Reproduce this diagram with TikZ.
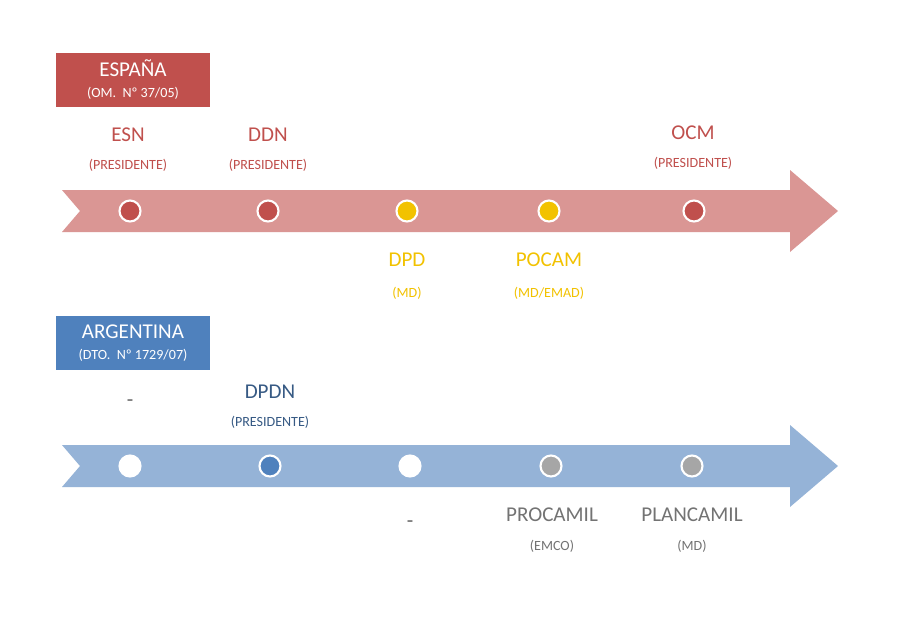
\documentclass[tikz,border=0pt]{standalone}
\usepackage{fontspec}
\setmainfont{Carlito}
\usetikzlibrary{positioning}
\definecolor{esred}{HTML}{C0504D}
\definecolor{espink}{HTML}{DA9694}
\definecolor{esyel}{HTML}{F2C200}
\definecolor{arblue}{HTML}{4F81BD}
\definecolor{arlight}{HTML}{95B3D7}
\definecolor{argrey}{HTML}{A6A6A6}
\tikzstyle{country}=[rectangle, draw=white, thick, minimum width=3.1cm, minimum height=1.1cm, align=center, text=white, font=\large, inner sep=1pt]
\tikzstyle{dot}=[circle, draw=white, line width=1.2pt, minimum size=0.42cm, inner sep=0pt]
\tikzstyle{lbl}=[font=\large, align=center]
\tikzstyle{sub}=[font=\footnotesize, align=center]
\begin{document}
\begin{tikzpicture}[x=0.02cm,y=-0.02cm]
        \useasboundingbox (0,0) rectangle (900,620);
        \fill[white] (0,0) rectangle (900,620);

        % Timeline arrows
        \fill[espink] (62,190) -- (790,190) -- (790,170) -- (838,211) -- (790,252) -- (790,232) -- (62,232) -- (80,211) -- cycle;
        \fill[arlight] (62,445) -- (790,445) -- (790,425) -- (838,466) -- (790,507) -- (790,487) -- (62,487) -- (80,466) -- cycle;

        % Espana
        \node (espana) [country, fill=esred] at (133,80) {ESPAÑA\\[-2pt] {\footnotesize (OM.\ \ Nº 37/05)}};
        \node (esn) [dot, fill=esred] at (130,211) {};
        \node (ddn) [dot, fill=esred] at (268,211) {};
        \node (dpd) [dot, fill=esyel] at (407,211) {};
        \node (pocam) [dot, fill=esyel] at (549,211) {};
        \node (ocm) [dot, fill=esred] at (694,211) {};

        \node [lbl, text=esred] at (128,135) {ESN};
        \node [sub, text=esred] at (128,165) {(PRESIDENTE)};
        \node [lbl, text=esred] at (268,135) {DDN};
        \node [sub, text=esred] at (268,165) {(PRESIDENTE)};
        \node [lbl, text=esred] at (693,133) {OCM};
        \node [sub, text=esred] at (693,163) {(PRESIDENTE)};
        \node [lbl, text=esyel] at (407,260) {DPD};
        \node [sub, text=esyel] at (407,293) {(MD)};
        \node [lbl, text=esyel] at (549,260) {POCAM};
        \node [sub, text=esyel] at (549,293) {(MD/EMAD)};

        % Argentina
        \node (argentina) [country, fill=arblue] at (133,343) {ARGENTINA\\[-2pt] {\footnotesize (DTO.\ \ Nº 1729/07)}};
        \node (a1) [dot, fill=white] at (130,466) {};
        \node (dpdn) [dot, fill=arblue] at (270,466) {};
        \node (a3) [dot, fill=white] at (410,466) {};
        \node (procamil) [dot, fill=argrey] at (551,466) {};
        \node (plancamil) [dot, fill=argrey] at (692,466) {};

        \node [lbl, text=black!60] at (130,403) {-};
        \node [lbl, text=arblue!70!black] at (270,392) {DPDN};
        \node [sub, text=arblue!70!black] at (270,422) {(PRESIDENTE)};
        \node [lbl, text=black!60] at (410,524) {-};
        \node [lbl, text=black!55] at (552,515) {PROCAMIL};
        \node [sub, text=black!55] at (552,546) {(EMCO)};
        \node [lbl, text=black!55] at (692,515) {PLANCAMIL};
        \node [sub, text=black!55] at (692,546) {(MD)};
\end{tikzpicture}
\end{document}
